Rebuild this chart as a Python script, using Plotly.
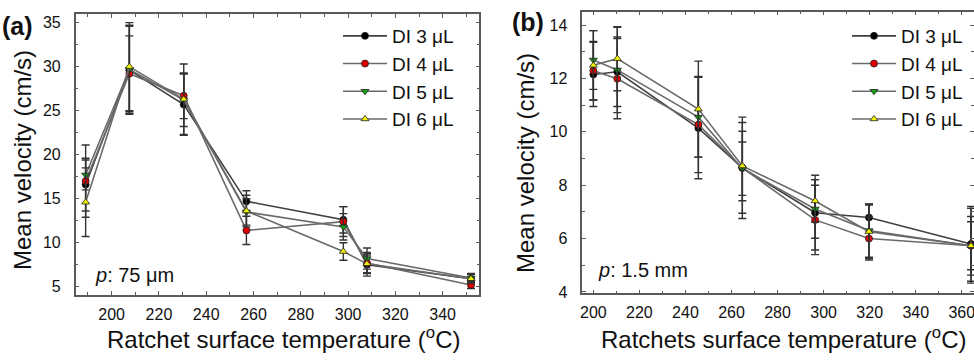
import plotly.graph_objects as go

# ---------------- data ----------------
series_names = ["DI 3 μL", "DI 4 μL", "DI 5 μL", "DI 6 μL"]

temp_a = [189, 207.5, 230.5, 257, 298, 308, 352]
vel_a_3 = [16.6, 29.6, 25.7, 14.7, 12.6, 7.5, 5.9]
vel_a_4 = [17.0, 29.2, 26.7, 11.4, 12.4, 7.7, 5.2]
vel_a_5 = [17.7, 29.7, 26.2, 13.5, 11.8, 8.2, 6.0]
vel_a_6 = [14.6, 30.0, 26.3, 13.6, 9.0, 7.6, 5.9]
err_a_3 = [3.0, 5.0, 3.5, 1.2, 1.5, 1.3, 0.5]
err_a_4 = [4.1, 4.3, 2.6, 1.6, 1.7, 1.2, 0.4]
err_a_5 = [1.7, 5.0, 3.0, 1.5, 1.5, 1.2, 0.5]
err_a_6 = [3.9, 5.0, 4.0, 1.8, 1.0, 1.0, 0.5]

temp_b = [200, 210.4, 245.6, 264.7, 296.3, 319.7, 364]
vel_b_3 = [12.15, 12.25, 10.14, 8.65, 6.97, 6.79, 5.8]
vel_b_4 = [12.29, 11.99, 10.27, 8.65, 6.70, 6.00, 5.73]
vel_b_5 = [12.69, 12.32, 10.55, 8.62, 7.11, 6.30, 5.73]
vel_b_6 = [12.49, 12.74, 10.85, 8.72, 7.41, 6.26, 5.73]
err_b_3 = [1.2, 1.3, 1.9, 1.9, 1.4, 0.5, 1.4]
err_b_4 = [1.1, 1.5, 1.8, 1.7, 1.3, 0.8, 0.9]
err_b_5 = [1.1, 1.6, 1.5, 1.0, 1.1, 1.0, 1.4]
err_b_6 = [1.3, 1.2, 1.8, 1.3, 0.8, 1.0, 1.1]

x_ticks_a = [200, 220, 240, 260, 280, 300, 320, 340]
y_ticks_a = [5, 10, 15, 20, 25, 30, 35]
x_ticks_b = [200, 220, 240, 260, 280, 300, 320, 340, 360]
y_ticks_b = [4, 6, 8, 10, 12, 14]

# ---------------- styles ----------------
FONT = "Liberation Sans, Arial, sans-serif"
marker_colors = ["#000000", "#e00000", "#12a012", "#f2f200"]
marker_symbols = ["circle", "circle", "triangle-down", "triangle-up"]
line_colors = ["#404040", "#6a6a6a", "#6a6a6a", "#6a6a6a"]

fig = go.Figure()

vals_a = [vel_a_3, vel_a_4, vel_a_5, vel_a_6]
errs_a = [err_a_3, err_a_4, err_a_5, err_a_6]
vals_b = [vel_b_3, vel_b_4, vel_b_5, vel_b_6]
errs_b = [err_b_3, err_b_4, err_b_5, err_b_6]

for i in range(4):
    fig.add_trace(go.Scatter(
        x=temp_a, y=vals_a[i], name=series_names[i], mode="lines+markers",
        line=dict(color=line_colors[i], width=1.6),
        marker=dict(color=marker_colors[i], symbol=marker_symbols[i], size=7,
                    line=dict(color="#202020", width=0.8)),
        error_y=dict(type="data", array=errs_a[i], visible=True,
                     color="#333333", thickness=1.4, width=4),
        xaxis="x", yaxis="y", legend="legend",
    ))
for i in range(4):
    fig.add_trace(go.Scatter(
        x=temp_b, y=vals_b[i], name=series_names[i], mode="lines+markers",
        line=dict(color=line_colors[i], width=1.6),
        marker=dict(color=marker_colors[i], symbol=marker_symbols[i], size=7,
                    line=dict(color="#202020", width=0.8)),
        error_y=dict(type="data", array=errs_b[i], visible=True,
                     color="#333333", thickness=1.4, width=4),
        xaxis="x2", yaxis="y2", legend="legend2",
    ))

W, H = 974, 360
axis_common = dict(
    showline=True, linecolor="#5a5a5a", linewidth=1.5, mirror="ticks",
    ticks="inside", ticklen=4, tickwidth=1, tickcolor="#5a5a5a",
    showgrid=False, zeroline=False, automargin=False,
    ticklabeloverflow="allow",
    tickfont=dict(family=FONT, size=16, color="#111111"),
)

fig.update_layout(
    width=W, height=H,
    margin=dict(l=0, r=0, t=0, b=0),
    paper_bgcolor="white", plot_bgcolor="white",
    showlegend=True,
    xaxis=dict(domain=[75.7 / W, 479.3 / W], range=[184.8, 355.5],
               tickvals=x_ticks_a, anchor="y",
               minor=dict(dtick=10, ticks="inside", ticklen=3, tickcolor="#5a5a5a"),
               ticklabelstandoff=4, **axis_common),
    yaxis=dict(domain=[1 - 295 / H, 1 - 14.3 / H], range=[4.06, 35.95],
               tickvals=y_ticks_a, anchor="x",
               minor=dict(dtick=2.5, ticks="inside", ticklen=3, tickcolor="#5a5a5a"),
               ticklabelstandoff=10, **axis_common),
    xaxis2=dict(domain=[582.3 / W, 1.0], range=[195.2, 365.3],
                tickvals=x_ticks_b, anchor="y2",
                minor=dict(dtick=10, ticks="inside", ticklen=3, tickcolor="#5a5a5a"),
                ticklabelstandoff=4, **axis_common),
    yaxis2=dict(domain=[1 - 293.3 / H, 1 - 11.7 / H], range=[3.95, 14.5],
                tickvals=y_ticks_b, anchor="x2",
                minor=dict(dtick=1, ticks="inside", ticklen=3, tickcolor="#5a5a5a"),
                ticklabelstandoff=10, **axis_common),
    legend=dict(x=338 / W, y=1 - 17 / H, xanchor="left", yanchor="top",
                bgcolor="rgba(0,0,0,0)", itemwidth=44,
                font=dict(family=FONT, size=19, color="#111111")),
    legend2=dict(x=847 / W, y=1 - 17 / H, xanchor="left", yanchor="top",
                 bgcolor="rgba(0,0,0,0)", itemwidth=44,
                 font=dict(family=FONT, size=19, color="#111111")),
)

annos = [
    dict(text="<b>(a)</b>", x=0 / W, y=1 - 26 / H, xanchor="left", yanchor="middle",
         font=dict(size=25)),
    dict(text="<b>(b)</b>", x=510 / W, y=1 - 22 / H, xanchor="left", yanchor="middle",
         font=dict(size=25)),
    dict(text="<i>p</i>: 75 μm", x=93 / W, y=1 - 275 / H, xanchor="left", yanchor="middle",
         font=dict(size=20)),
    dict(text="<i>p</i>: 1.5 mm", x=596 / W, y=1 - 270 / H, xanchor="left", yanchor="middle",
         font=dict(size=20)),
    dict(text="Ratchet surface temperature (<sup>o</sup>C)", x=283 / W, y=1 - 338 / H,
         xanchor="center", yanchor="middle", font=dict(size=24)),
    dict(text="Ratchets surface temperature (<sup>o</sup>C)", x=783 / W, y=1 - 338 / H,
         xanchor="center", yanchor="middle", font=dict(size=24)),
    dict(text="Mean velocity (cm/s)", x=22 / W, y=1 - 160 / H, textangle=-90,
         xanchor="center", yanchor="middle", font=dict(size=24)),
    dict(text="Mean velocity (cm/s)", x=526 / W, y=1 - 163 / H, textangle=-90,
         xanchor="center", yanchor="middle", font=dict(size=24)),
]
for a in annos:
    a["xref"] = "paper"
    a["yref"] = "paper"
    a["showarrow"] = False
    a["font"] = dict(family=FONT, color="#111111", **a["font"])
    fig.add_annotation(**a)

fig.write_html(
    "out.html",
    config={"displayModeBar": False},
    post_script="document.body.style.margin='0';document.body.style.overflow='hidden';",
)
